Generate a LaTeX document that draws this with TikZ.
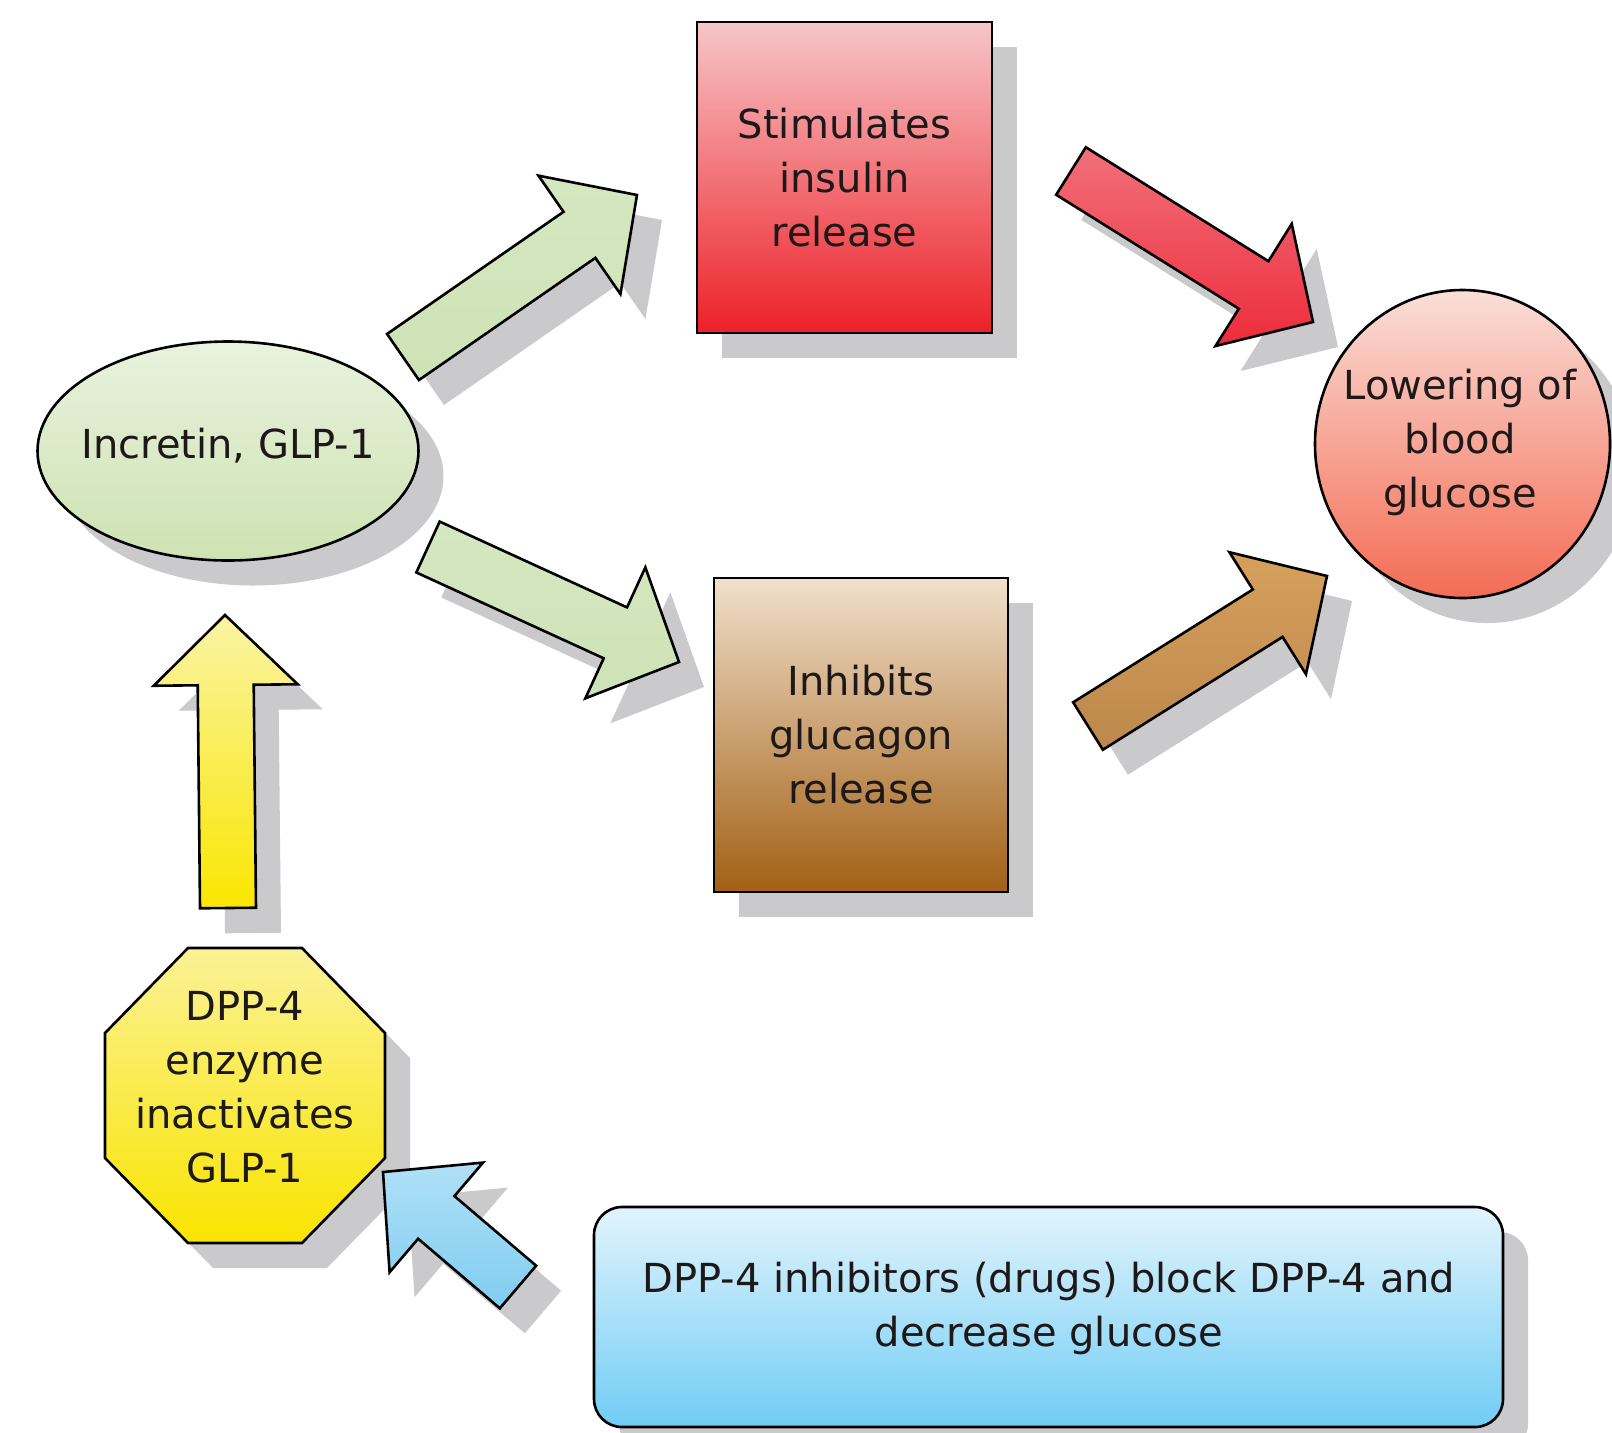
\documentclass[tikz,border=0pt]{standalone}
\usepackage{fontspec}
\setmainfont{DejaVu Sans}
\usetikzlibrary{calc,shadows,shapes.geometric}

\definecolor{shadowc}{RGB}{202,202,204}
\definecolor{textc}{RGB}{30,24,24}
\definecolor{stimtop}{RGB}{246,198,200}
\definecolor{stimbot}{RGB}{237,32,40}
\definecolor{inctop}{RGB}{232,242,222}
\definecolor{incbot}{RGB}{206,226,178}
\definecolor{greenarr}{RGB}{213,231,192}
\definecolor{greenarr2}{RGB}{206,226,182}
\definecolor{lowtop}{RGB}{250,222,216}
\definecolor{lowbot}{RGB}{244,108,84}
\definecolor{inhtop}{RGB}{241,224,204}
\definecolor{inhbot}{RGB}{162,96,20}
\definecolor{redtop}{RGB}{241,112,122}
\definecolor{redbot}{RGB}{237,44,60}
\definecolor{browntop}{RGB}{214,160,92}
\definecolor{brownbot}{RGB}{188,136,76}
\definecolor{yeltop}{RGB}{250,244,165}
\definecolor{yelbot}{RGB}{249,230,0}
\definecolor{octtop}{RGB}{250,242,150}
\definecolor{octbot}{RGB}{249,228,0}
\definecolor{bluetop}{RGB}{226,244,252}
\definecolor{bluebot}{RGB}{112,204,245}
\definecolor{barrtop}{RGB}{176,224,247}
\definecolor{barrbot}{RGB}{128,205,240}

% block arrow: #1 tail coordinate, #2 tip coordinate, #3 options
\newcommand\barrow[3]{%
  \coordinate (#1-h) at ($(#2)!35pt!(#1)$);
  \path[#3] ($(#1)!14pt!90:(#2)$) -- ($(#1-h)!14pt!90:(#2)$) -- ($(#1-h)!36pt!90:(#2)$)
    -- (#2) -- ($(#1-h)!36pt!-90:(#2)$) -- ($(#1-h)!14pt!-90:(#2)$) -- ($(#1)!14pt!-90:(#2)$) -- cycle;
}

\begin{document}
\begin{tikzpicture}[x=0.5pt,y=-0.5pt,
  txt/.style={font=\fontsize{20}{27}\selectfont, text=textc, align=center, inner sep=0pt},
  shad/.style={drop shadow={shadow xshift=12.5pt,shadow yshift=-12.5pt,fill=shadowc,opacity=1}},
  outline/.style={draw=black, line width=1.3pt},
  shapebox/.style={outline, shad, inner sep=0pt, rectangle},
  blockarr/.style={outline, shad, line join=miter}
]
\useasboundingbox (0,0) rectangle (1612,1432);

% boxes
\node[shapebox, top color=stimtop, bottom color=stimbot, minimum width=147.5pt, minimum height=155.5pt, txt]
  (stim) at (844.5,177.5) {Stimulates\\insulin\\release};
\node[shapebox, top color=inhtop, bottom color=inhbot, minimum width=147pt, minimum height=157pt, txt]
  (inh) at (861,735) {Inhibits\\glucagon\\release};

% ellipse
\node[ellipse, outline, shad, inner sep=0pt, top color=inctop, bottom color=incbot,
  minimum width=190.5pt, minimum height=109.5pt] (inc) at (228,451) {};
\node[txt] (inctxt) at (228,446) {Incretin, GLP-1};

% circle
\node[ellipse, outline, shad, inner sep=0pt, top color=lowtop, bottom color=lowbot,
  minimum width=147.5pt, minimum height=154pt] (low) at (1462.5,444) {};
\node[txt] (lowtxt) at (1460,442) {Lowering of\\blood\\glucose};

% octagon
\path[outline, shad, top color=octtop, bottom color=octbot]
  (188,948) -- (302,948) -- (385,1033) -- (385,1158) -- (302,1243) -- (188,1243) -- (105,1158) -- (105,1033) -- cycle;
\node[txt] (dpp) at (245,1087) {DPP-4\\enzyme\\inactivates\\GLP-1};

% blue rounded box
\node[outline, shad, rounded corners=14pt, inner sep=0pt, top color=bluetop, bottom color=bluebot,
  minimum width=454.5pt, minimum height=110pt] (drug) at (1048.5,1317) {};
\node[txt] (drugtxt) at (1049,1308) {DPP-4 inhibitors (drugs) block DPP-4 and\\decrease glucose};

% arrow coordinates
\coordinate (g1a) at (403,357);  \coordinate (g1b) at (637,195);
\coordinate (g2a) at (428,547);  \coordinate (g2b) at (679,662);
\coordinate (ra)  at (1071,171); \coordinate (rb)  at (1313,322);
\coordinate (ba)  at (1088,726); \coordinate (bb)  at (1327,576);
\coordinate (ya)  at (228,908);  \coordinate (yb)  at (225,615);
\coordinate (la)  at (518,1287); \coordinate (lb)  at (383,1172);

\barrow{g1a}{g1b}{blockarr, top color=greenarr, bottom color=greenarr2}
\barrow{g2a}{g2b}{blockarr, top color=greenarr, bottom color=greenarr2}
\barrow{ra}{rb}{blockarr, top color=redtop, bottom color=redbot}
\barrow{ba}{bb}{blockarr, top color=browntop, bottom color=brownbot}
\barrow{ya}{yb}{blockarr, top color=yeltop, bottom color=yelbot}
\barrow{la}{lb}{blockarr, top color=barrtop, bottom color=barrbot}
\end{tikzpicture}
\end{document}
